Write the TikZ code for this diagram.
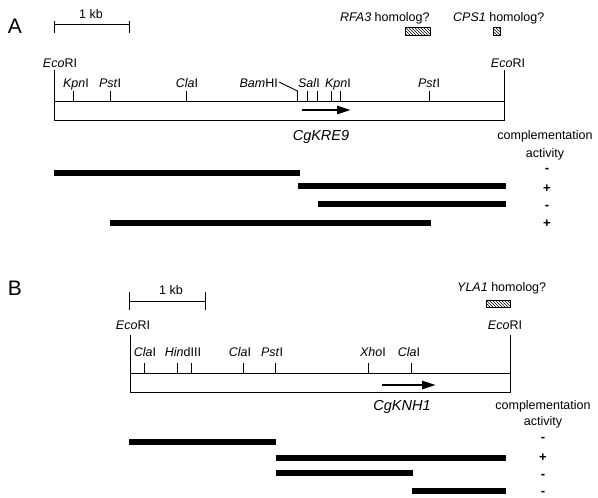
\documentclass[tikz,border=0pt]{standalone}
\usepackage{fontspec}
\setmainfont{Liberation Sans}
\usetikzlibrary{arrows.meta,patterns}
\begin{document}
\begin{tikzpicture}[x=1pt,y=-1pt,
 lbl/.style={inner sep=0pt,anchor=base,font=\fontsize{12.5}{14}\selectfont},
 gene/.style={inner sep=0pt,anchor=base,font=\fontsize{14.5}{16}\selectfont\itshape},
 panel/.style={inner sep=0pt,anchor=base,font=\fontsize{21}{24}\selectfont},
 sign/.style={inner sep=0pt,anchor=base,font=\fontsize{13}{14}\selectfont\bfseries},
 mapline/.style={line width=0.9pt},
 frag/.style={line width=6pt},
 hatchbox/.style={draw,line width=0.6pt,pattern=north west lines},
 genearrow/.style={line width=2.5pt,-{Triangle[length=14pt,width=8pt]}}]
\useasboundingbox (0,0) rectangle (598,498);

% ================= Panel A =================
\node[panel] (pA) at (15,33) {A};
% scale bar
\coordinate (sa1) at (54,24); \coordinate (sa2) at (129,24);
\draw[mapline] (sa1) -- (sa2);
\draw[mapline] (54,20.5) -- (54,33); \draw[mapline] (129,20.5) -- (129,33);
\node[lbl] (kbA) at (91,18.5) {1 kb};
% homologs
\node[lbl,anchor=base west] (rfa) at (340,21.5) {\textit{RFA3} homolog?};
\node[lbl,anchor=base west] (cps) at (453,21.5) {\textit{CPS1} homolog?};
\draw[hatchbox] (405,27) rectangle (430,35);
\draw[hatchbox] (493,27) rectangle (500,35);
% map box
\draw[mapline] (54,101) rectangle (504,120);
\draw[mapline] (54,70) -- (54,101);
\draw[mapline] (504,70) -- (504,101);
\node[lbl] (ecoA1) at (60,67.5) {\textit{Eco}RI};
\node[lbl] (ecoA2) at (508,67.5) {\textit{Eco}RI};
% sites
\foreach \x in {73,110,186,307,317,331,340,429}
  \draw[mapline] (\x,91) -- (\x,101);
\node[lbl] (kpnA1) at (76,87) {\textit{Kpn}I};
\node[lbl] (pstA1) at (110,87) {\textit{Pst}I};
\node[lbl] (claA1) at (187,87) {\textit{Cla}I};
\node[lbl,anchor=base east] (bamA) at (278,87) {\textit{Bam}HI};
\draw[mapline] (279,82) -- (297.5,91) -- (297.5,101);
\node[lbl] (salA) at (309,87) {\textit{Sal}I};
\node[lbl] (kpnA2) at (338,87) {\textit{Kpn}I};
\node[lbl] (pstA2) at (429,87) {\textit{Pst}I};
% gene arrow
\draw[genearrow] (302,110) -- (351,110);
\node[gene] (kre9) at (321,140) {CgKRE9};
% complementation
\node[lbl] (compA) at (545,139.5) {complementation};
\node[lbl] (actA) at (545,157.5) {activity};
% fragments
\draw[frag] (54,173) -- (300,173);
\draw[frag] (298,186) -- (506,186);
\draw[frag] (318,204) -- (506,204);
\draw[frag] (110,223) -- (431,223);
\node[sign] (sA1) at (547,172.3) {-};
\node[sign] (sA2) at (547,192.4) {+};
\node[sign] (sA3) at (547,209.3) {-};
\node[sign] (sA4) at (547,227.4) {+};

% ================= Panel B =================
\node[panel] (pB) at (15,295) {B};
\draw[mapline] (129,301) -- (205,301);
\draw[mapline] (129,292) -- (129,310); \draw[mapline] (205,292) -- (205,310);
\node[lbl] (kbB) at (171,294.5) {1 kb};
\node[lbl,anchor=base west] (yla) at (457,291.5) {\textit{YLA1} homolog?};
\draw[hatchbox] (486,300) rectangle (510,307);
% map box
\draw[mapline] (130,373) rectangle (510,392);
\draw[mapline] (130,335) -- (130,373);
\draw[mapline] (510,335) -- (510,373);
\node[lbl] (ecoB1) at (133,329.5) {\textit{Eco}RI};
\node[lbl] (ecoB2) at (505,329.5) {\textit{Eco}RI};
\foreach \x in {144,177,191,243,275,368,411}
  \draw[mapline] (\x,363) -- (\x,373);
\node[lbl] (claB1) at (145,356.5) {\textit{Cla}I};
\node[lbl] (hinB) at (183,356.5) {\textit{Hin}dIII};
\node[lbl] (claB2) at (240,356.5) {\textit{Cla}I};
\node[lbl] (pstB) at (272,356.5) {\textit{Pst}I};
\node[lbl] (xhoB) at (373,356.5) {\textit{Xho}I};
\node[lbl] (claB3) at (409,356.5) {\textit{Cla}I};
\draw[genearrow] (382,385) -- (436,385);
\node[gene] (knh1) at (402,410) {CgKNH1};
\node[lbl] (compB) at (543,409.5) {complementation};
\node[lbl] (actB) at (543,425.5) {activity};
\draw[frag] (129,442) -- (276,442);
\draw[frag] (276,458) -- (506,458);
\draw[frag] (276,473) -- (413,473);
\draw[frag] (412,491) -- (506,491);
\node[sign] (sB1) at (543,441.3) {-};
\node[sign] (sB2) at (543,461.4) {+};
\node[sign] (sB3) at (543,478.3) {-};
\node[sign] (sB4) at (543,495.3) {-};
\end{tikzpicture}
\end{document}
